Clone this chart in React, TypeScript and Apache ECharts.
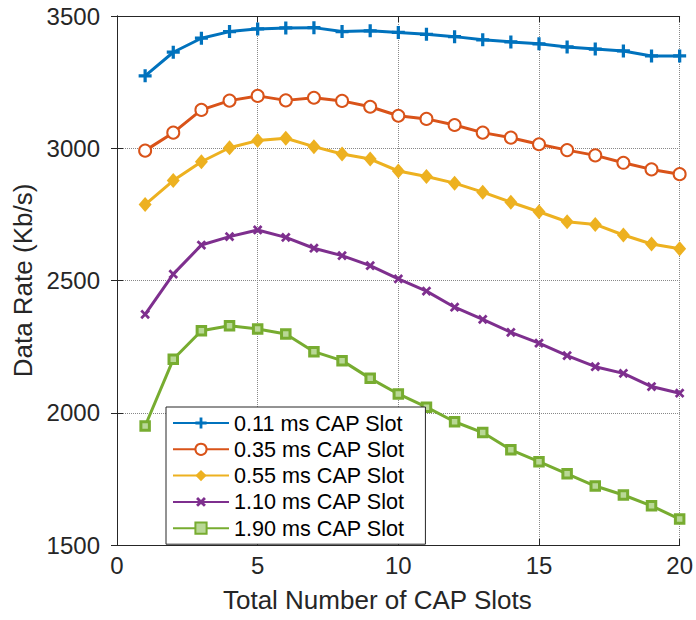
import React, { useEffect, useRef } from "react";
import * as echarts from "echarts";

const xValues = [1, 2, 3, 4, 5, 6, 7, 8, 9, 10, 11, 12, 13, 14, 15, 16, 17, 18, 19, 20];
const seriesNames = ["0.11 ms CAP Slot", "0.35 ms CAP Slot", "0.55 ms CAP Slot", "1.10 ms CAP Slot", "1.90 ms CAP Slot"];
const slot011 = [3274, 3363, 3416, 3441, 3451, 3455, 3456, 3441, 3444, 3438, 3431, 3422, 3410, 3402, 3395, 3383, 3375, 3368, 3349, 3349];
const slot035 = [2991, 3059, 3145, 3180, 3198, 3181, 3191, 3179, 3157, 3123, 3111, 3088, 3059, 3040, 3015, 2993, 2973, 2945, 2920, 2902];
const slot055 = [2787, 2878, 2949, 3002, 3029, 3038, 3006, 2978, 2959, 2914, 2893, 2868, 2834, 2796, 2760, 2722, 2712, 2672, 2638, 2620];
const slot110 = [2372, 2524, 2634, 2666, 2691, 2663, 2622, 2594, 2556, 2506, 2460, 2399, 2353, 2304, 2263, 2216, 2174, 2149, 2099, 2074];
const slot190 = [1950, 2202, 2310, 2329, 2317, 2298, 2231, 2197, 2130, 2071, 2021, 1966, 1925, 1860, 1815, 1769, 1723, 1689, 1648, 1598];
const xTicks = [0, 5, 10, 15, 20];
const yTicks = [1500, 2000, 2500, 3000, 3500];

const colors = ["#0072BD", "#D95319", "#EDB120", "#7E2F8E", "#77AC30"];
const plusPath = "path://M-6,-1.5H-1.5V-6H1.5V-1.5H6V1.5H1.5V6H-1.5V1.5H-6Z";
const xPath = "path://M-6,-1.5H-1.5V-6H1.5V-1.5H6V1.5H1.5V6H-1.5V1.5H-6Z";

export default function App() {
  const ref = useRef<HTMLDivElement>(null);
  useEffect(() => {
    const chart = echarts.init(ref.current!, null, { renderer: "svg" });
    const font = "Liberation Sans, Arial, Helvetica, sans-serif";
    const textColor = "#262626";
    const data = [slot011, slot035, slot055, slot110, slot190];
    const symbols: any[] = [
      { symbol: plusPath, symbolSize: 13, symbolRotate: 0, itemStyle: { color: colors[0] } },
      { symbol: "emptyCircle", symbolSize: 12, itemStyle: { color: colors[1], borderWidth: 2.5, borderColor: colors[1] } },
      { symbol: "diamond", symbolSize: [13, 15], itemStyle: { color: colors[2] } },
      { symbol: xPath, symbolSize: 11, symbolRotate: 45, itemStyle: { color: colors[3] } },
      { symbol: "rect", symbolSize: 8.5, itemStyle: { color: "#b9d896", borderWidth: 3, borderColor: colors[4] } },
    ];
    const series = seriesNames.map((name, i) => ({
      name,
      type: "line",
      data: xValues.map((x, j) => [x, data[i][j]]),
      lineStyle: { color: colors[i], width: 3 },
      ...symbols[i],
      showAllSymbol: true,
      z: 10 - i,
    }));
    const axisLine = { show: true, lineStyle: { color: textColor, width: 1 } };
    chart.setOption({
      animation: false,
      backgroundColor: "#fff",
      textStyle: { fontFamily: font },
      grid: { left: 117, right: 11, top: 16, bottom: 75 },
      legend: {
        orient: "vertical",
        left: 166,
        top: 407,
        data: seriesNames,
        itemWidth: 56,
        itemHeight: 14,
        itemGap: 4.3,
        padding: [5, 21, 5, 6],
        borderColor: textColor,
        borderWidth: 1,
        backgroundColor: "#fff",
        textStyle: { fontSize: 21.6, lineHeight: 22, color: "#000", fontFamily: font },
        z: 20,
      },
      xAxis: [
        {
          type: "value",
          min: 0,
          max: 20,
          interval: 5,
          name: "Total Number of CAP Slots",
          nameLocation: "middle",
          nameGap: 42,
          nameTextStyle: { fontSize: 26, color: textColor, fontFamily: font, padding: [0, 42, 0, 0] },
          axisLine,
          axisTick: { show: true, inside: true, length: 6, lineStyle: { color: textColor } },
          axisLabel: { fontSize: 24, color: textColor, margin: 8, fontFamily: font, formatter: (v: number) => (xTicks.includes(v) ? String(v) : "") },
          splitLine: { show: true, lineStyle: { type: "dotted", color: "#888", width: 1 } },
        },
        {
          type: "value",
          position: "top",
          min: 0,
          max: 20,
          interval: 5,
          axisLine,
          axisTick: { show: true, inside: true, length: 6, lineStyle: { color: textColor } },
          axisLabel: { show: false },
          splitLine: { show: false },
        },
      ],
      yAxis: [
        {
          type: "value",
          min: 1500,
          max: 3500,
          interval: 500,
          name: "Data Rate (Kb/s)",
          nameLocation: "middle",
          nameGap: 76,
          nameTextStyle: { fontSize: 26, color: textColor, fontFamily: font },
          axisLine,
          axisTick: { show: true, inside: true, length: 6, lineStyle: { color: textColor } },
          axisLabel: { fontSize: 24, color: textColor, margin: 17, fontFamily: font, formatter: (v: number) => (yTicks.includes(v) ? String(v) : "") },
          splitLine: { show: true, lineStyle: { type: "dotted", color: "#888", width: 1 } },
        },
        {
          type: "value",
          position: "right",
          min: 1500,
          max: 3500,
          interval: 500,
          axisLine,
          axisTick: { show: true, inside: true, length: 6, lineStyle: { color: textColor } },
          axisLabel: { show: false },
          splitLine: { show: false },
        },
      ],
      series,
    });
    return () => chart.dispose();
  }, []);
  return <div ref={ref} style={{ width: 696, height: 620, position: "absolute", left: 0, top: 0 }} />;
}
